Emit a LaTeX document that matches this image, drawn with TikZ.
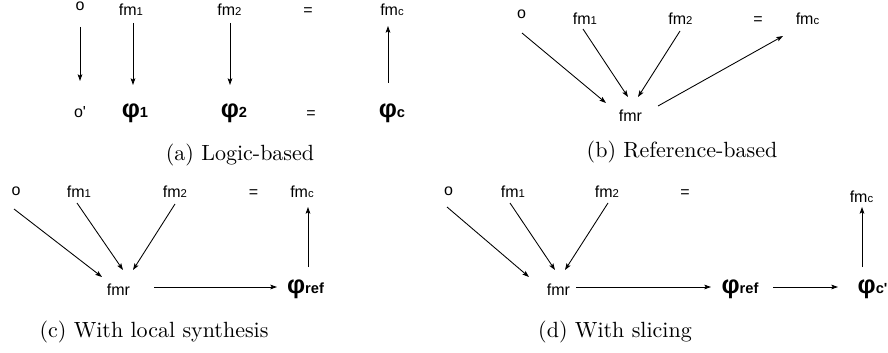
\documentclass[tikz,border=0pt]{standalone}
\usepackage{fontspec}
\newfontfamily\diafont{Liberation Sans}
\newfontfamily\capfont{lmroman10-regular.otf}
\usetikzlibrary{positioning, calc, arrows.meta}
\newcommand{\fmsub}{\fontsize{8.5}{8.5}\selectfont}
\newcommand{\phisub}{\fontsize{11}{11}\selectfont\bfseries}

\begin{document}
\begin{tikzpicture}[
  x=0.75pt, y=-0.75pt,
  lbl/.style={anchor=base, inner sep=0pt, font=\diafont\fontsize{12}{12}\selectfont},
  philbl/.style={anchor=base, inner sep=0pt, font=\diafont\fontsize{19}{19}\selectfont\bfseries},
  capt/.style={anchor=base, inner sep=0pt, font=\capfont\fontsize{16.5}{20}\selectfont},
  arr/.style={-{Stealth[length=5pt, width=3.5pt, inset=1pt]}, line width=0.65pt, black}
]
  \useasboundingbox (0,0) rectangle (888,353);

  % (a) logic-based
  \node[lbl] (a-o) at (80,11) {o};
  \node[lbl] (a-fm1) at (131,16) {fm{\fmsub 1}};
  \node[lbl] (a-fm2) at (229.5,16) {fm{\fmsub 2}};
  \node[lbl] (a-eq) at (308,16) {=};
  \node[lbl] (a-fmc) at (392,16) {fm{\fmsub c}};
  \node[lbl] (a-oo) at (80,117) {o'};
  \node[philbl] (a-phi1) at (135,117) {φ{\phisub 1}};
  \node[philbl] (a-phi2) at (234,117) {φ{\phisub 2}};
  \node[lbl] (a-eq2) at (311,118) {=};
  \node[philbl] (a-phic) at (392,117) {φ{\phisub c}};
  \node[capt] (a-cap) at (240,160) {(a) Logic-based};
  \draw[arr] ([shift={(0,16)}]a-o.base) -- ([shift={(0,-36)}]a-oo.base);
  \draw[arr] ([shift={(2,7)}]a-fm1.base) -- ([shift={(-2,-32)}]a-phi1.base);
  \draw[arr] ([shift={(0.5,7)}]a-fm2.base) -- ([shift={(-4,-32)}]a-phi2.base);
  \draw[arr] ([shift={(-4,-34)}]a-phic.base) -- ([shift={(-4,10)}]a-fmc.base);

  % (b) reference-based
  \node[lbl] (b-o) at (521.5,19) {o};
  \node[lbl] (b-fm1) at (585,25) {fm{\fmsub 1}};
  \node[lbl] (b-fm2) at (680.5,25) {fm{\fmsub 2}};
  \node[lbl] (b-eq) at (758,25) {=};
  \node[lbl] (b-fmc) at (807.5,25) {fm{\fmsub c}};
  \node[lbl] (b-fmr) at (630.5,121) {fmr};
  \node[capt] (b-cap) at (682,157) {(b) Reference-based};
  \draw[arr] ([shift={(0.5,14)}]b-o.base) -- ([shift={(-24.5,-18)}]b-fmr.base);
  \draw[arr] ([shift={(-2,4)}]b-fm1.base) -- ([shift={(-2.5,-24)}]b-fmr.base);
  \draw[arr] ([shift={(-0.5,6)}]b-fm2.base) -- ([shift={(7.5,-24)}]b-fmr.base);
  \draw[arr] ([shift={(27.5,-15)}]b-fmr.base) -- ([shift={(-24.5,11)}]b-fmc.base);

  % (c) with local synthesis
  \node[lbl] (c-o) at (16,195) {o};
  \node[lbl] (c-fm1) at (79,197) {fm{\fmsub 1}};
  \node[lbl] (c-fm2) at (175,197) {fm{\fmsub 2}};
  \node[lbl] (c-eq) at (253.5,197) {=};
  \node[lbl] (c-fmc) at (302,197) {fm{\fmsub c}};
  \node[lbl] (c-fmr) at (118.5,295) {fmr};
  \node[philbl] (c-phiref) at (305.5,293) {φ{\phisub ref}};
  \node[capt] (c-cap) at (154,337) {(c) With local synthesis};
  \draw[arr] ([shift={(-2,14)}]c-o.base) -- ([shift={(-16.5,-18)}]c-fmr.base);
  \draw[arr] ([shift={(-2,6)}]c-fm1.base) -- ([shift={(4.5,-25)}]c-fmr.base);
  \draw[arr] ([shift={(0,7)}]c-fm2.base) -- ([shift={(14.5,-25)}]c-fmr.base);
  \draw[arr] ([shift={(35.5,-8)}]c-fmr.base) -- ([shift={(-28.5,-6)}]c-phiref.base);
  \draw[arr] ([shift={(2.5,-26)}]c-phiref.base) -- ([shift={(6,10)}]c-fmc.base);

  % (d) with slicing
  \node[lbl] (d-o) at (448.5,195) {o};
  \node[lbl] (d-fm1) at (513,197) {fm{\fmsub 1}};
  \node[lbl] (d-fm2) at (607,197) {fm{\fmsub 2}};
  \node[lbl] (d-eq) at (685,197) {=};
  \node[lbl] (d-fmc) at (861.5,202) {fm{\fmsub c}};
  \node[lbl] (d-fmr) at (558.5,295) {fmr};
  \node[philbl] (d-phiref) at (740,293) {φ{\phisub ref}};
  \node[philbl] (d-phic) at (872.5,293) {φ{\phisub c'}};
  \node[capt] (d-cap) at (615,337) {(d) With slicing};
  \draw[arr] ([shift={(-1.5,12)}]d-o.base) -- ([shift={(-29.5,-18)}]d-fmr.base);
  \draw[arr] ([shift={(-3,6)}]d-fm1.base) -- ([shift={(-3.5,-25)}]d-fmr.base);
  \draw[arr] ([shift={(1,6)}]d-fm2.base) -- ([shift={(6.5,-25)}]d-fmr.base);
  \draw[arr] ([shift={(17.5,-8)}]d-fmr.base) -- ([shift={(-29,-6)}]d-phiref.base);
  \draw[arr] ([shift={(33,-6)}]d-phiref.base) -- ([shift={(-34.5,-6)}]d-phic.base);
  \draw[arr] ([shift={(-10.5,-26)}]d-phic.base) -- ([shift={(0.5,5)}]d-fmc.base);
\end{tikzpicture}
\end{document}
